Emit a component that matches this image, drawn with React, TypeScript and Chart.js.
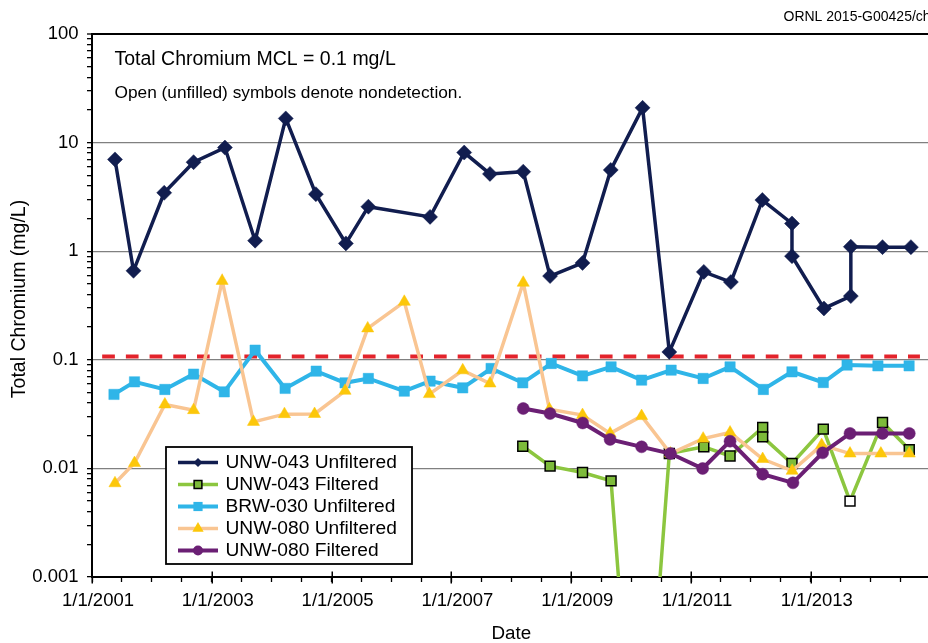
import React, { useEffect, useRef } from 'react';
import { Chart, registerables } from 'chart.js';

Chart.register(...registerables);

const FONT = '"Liberation Sans", Arial, Helvetica, sans-serif';

// ---------------- data ----------------
const X_TICK_YEARS = [2001, 2003, 2005, 2007, 2009, 2011, 2013];
const X_TICK_LABELS = ['1/1/2001', '1/1/2003', '1/1/2005', '1/1/2007', '1/1/2009', '1/1/2011', '1/1/2013'];
const Y_TICK_VALUES = [0.001, 0.01, 0.1, 1, 10, 100];
const Y_TICK_LABELS = ['0.001', '0.01', '0.1', '1', '10', '100'];

const UNW043U_DATES = [
  '2001-05-21', '2001-09-11', '2002-03-17', '2002-09-12', '2003-03-22', '2003-09-22', '2004-03-27',
  '2004-09-27', '2005-03-29', '2005-08-13', '2006-08-24', '2007-03-20', '2007-08-24', '2008-03-14',
  '2008-08-25', '2009-03-11', '2009-08-30', '2010-03-12', '2010-08-22', '2011-03-20', '2011-09-01',
  '2012-03-11', '2012-09-08', '2012-09-08', '2013-03-22', '2013-09-02', '2013-09-02', '2014-03-14',
  '2014-09-03',
];
const UNW043U_VALUES = [
  7.0, 0.66, 3.45, 6.6, 9.0, 1.25, 16.7, 3.35, 1.18, 2.57, 2.07, 8.1, 5.15, 5.4, 0.59, 0.78, 5.6, 20.9,
  0.118, 0.645, 0.52, 2.96, 1.8, 0.9, 0.297, 0.386, 1.1, 1.09, 1.09,
];

const UNW043F_DATES = [
  '2008-03-11', '2008-08-25', '2009-03-11', '2009-09-01', '2010-02-21', '2010-08-22', '2011-03-20',
  '2011-08-27', '2012-03-13', '2012-03-13', '2012-09-08', '2013-03-18', '2013-08-28', '2014-03-14',
  '2014-08-24',
];
const UNW043F_VALUES = [
  0.016, 0.0105, 0.00917, 0.00767, 0.000003, 0.0137, 0.0158, 0.013, 0.0238, 0.0195, 0.0111, 0.023,
  0.005, 0.0265, 0.0149,
];
const UNW043F_NONDETECT = [
  false, false, false, false, false, false, false, false, false, false, false, false, true, false, false,
];

const BRW030U_DATES = [
  '2001-05-15', '2001-09-17', '2002-03-21', '2002-09-12', '2003-03-18', '2003-09-22', '2004-03-23',
  '2004-09-29', '2005-03-24', '2005-08-13', '2006-03-20', '2006-08-24', '2007-03-11', '2007-08-31',
  '2008-03-11', '2008-09-01', '2009-03-11', '2009-09-01', '2010-03-06', '2010-09-02', '2011-03-16',
  '2011-08-27', '2012-03-17', '2012-09-08', '2013-03-18', '2013-08-10', '2014-02-14', '2014-08-23',
];
const BRW030U_VALUES = [
  0.048, 0.0627, 0.0533, 0.0738, 0.0507, 0.1227, 0.0545, 0.0786, 0.0614, 0.0673, 0.0514, 0.0636,
  0.0552, 0.0832, 0.0614, 0.0925, 0.0711, 0.0861, 0.065, 0.0803, 0.0673, 0.0861, 0.0533, 0.0775,
  0.0618, 0.0894, 0.088, 0.088,
];

const UNW080U_DATES = [
  '2001-05-21', '2001-09-17', '2002-03-21', '2002-09-12', '2003-03-05', '2003-09-12', '2004-03-19',
  '2004-09-19', '2005-03-24', '2005-08-09', '2006-03-20', '2006-08-20', '2007-03-11', '2007-08-24',
  '2008-03-14', '2008-08-21', '2009-03-11', '2009-08-26', '2010-03-06', '2010-08-29', '2011-03-16',
  '2011-08-27', '2012-03-13', '2012-09-09', '2013-03-08', '2013-08-28', '2014-03-04', '2014-08-24',
];
const UNW080U_VALUES = [
  0.0073, 0.0112, 0.0388, 0.0344, 0.533, 0.0268, 0.0316, 0.0317, 0.0518, 0.1945, 0.342, 0.0483, 0.08,
  0.0605, 0.512, 0.035, 0.031, 0.021, 0.0303, 0.0137, 0.0188, 0.0214, 0.0122, 0.0095, 0.0164, 0.0137,
  0.0137, 0.0137,
];

const UNW080F_DATES = [
  '2008-03-14', '2008-08-25', '2009-03-12', '2009-08-26', '2010-03-06', '2010-08-29', '2011-03-13',
  '2011-08-27', '2012-03-13', '2012-09-14', '2013-03-14', '2013-08-28', '2014-03-14', '2014-08-24',
];
const UNW080F_VALUES = [
  0.0356, 0.032, 0.0262, 0.0185, 0.0158, 0.0137, 0.00998, 0.0178, 0.00885, 0.00736, 0.0139, 0.021,
  0.021, 0.021,
];

const MCL_VALUE = 0.107;
const MCL_DATES = ['2001-03-04', '2014-10-28'];

const TITLE_TEXT = 'Total Chromium MCL = 0.1 mg/L';
const NOTE_TEXT = 'Open (unfilled) symbols denote nondetection.';
const CREDIT_TEXT = 'ORNL 2015-G00425/chj';
const Y_TITLE = 'Total Chromium (mg/L)';
const X_TITLE = 'Date';

// ---------------- styles ----------------
const NAVY = '#111d4f';
const GREEN = '#8cc63f';
const GREEN_FILL = '#7dbb3a';
const BLUE = '#2fb5e8';
const PEACH = '#f9c592';
const GOLD = '#fcc70a';
const PURPLE = '#6b1f74';
const RED = '#e3232b';

const toYear = (iso: string) => {
  const [y, m, d] = iso.split('-').map(Number);
  const start = Date.UTC(y, 0, 1);
  const end = Date.UTC(y + 1, 0, 1);
  return y + (Date.UTC(y, m - 1, d) - start) / (end - start);
};
const pts = (dates: string[], vals: number[]) => dates.map((d, i) => ({ x: toYear(d), y: vals[i] }));

const LEGEND_ITEMS = [
  { label: 'UNW-043 Unfiltered', line: NAVY, lw: 3.5, style: 'diamond', r: 4.5, fill: NAVY, stroke: NAVY, sw: 0 },
  { label: 'UNW-043 Filtered', line: GREEN, lw: 3.5, style: 'square', r: 5.5, fill: GREEN_FILL, stroke: '#000', sw: 1.5 },
  { label: 'BRW-030 Unfiltered', line: BLUE, lw: 4, style: 'square', r: 6.5, fill: BLUE, stroke: BLUE, sw: 0 },
  { label: 'UNW-080 Unfiltered', line: PEACH, lw: 3.5, style: 'triangle', r: 6.5, fill: GOLD, stroke: GOLD, sw: 0 },
  { label: 'UNW-080 Filtered', line: PURPLE, lw: 4, style: 'circle', r: 5, fill: PURPLE, stroke: PURPLE, sw: 0 },
];

function drawMarker(ctx: CanvasRenderingContext2D, style: string, x: number, y: number, r: number, fill: string, stroke: string, sw: number) {
  ctx.beginPath();
  if (style === 'diamond') {
    ctx.moveTo(x, y - r); ctx.lineTo(x + r, y); ctx.lineTo(x, y + r); ctx.lineTo(x - r, y); ctx.closePath();
  } else if (style === 'square') {
    const h = r / Math.SQRT2;
    ctx.rect(x - h, y - h, 2 * h, 2 * h);
  } else if (style === 'triangle') {
    ctx.moveTo(x, y - r);
    ctx.lineTo(x + r * Math.sin(Math.PI * 2 / 3), y - r * Math.cos(Math.PI * 2 / 3));
    ctx.lineTo(x + r * Math.sin(Math.PI * 4 / 3), y - r * Math.cos(Math.PI * 4 / 3));
    ctx.closePath();
  } else {
    ctx.arc(x, y, r, 0, Math.PI * 2);
  }
  ctx.fillStyle = fill;
  ctx.fill();
  if (sw > 0) {
    ctx.lineWidth = sw;
    ctx.strokeStyle = stroke;
    ctx.stroke();
  }
}

const annotate = {
  id: 'annotate',
  afterDraw(chart: any) {
    const ctx: CanvasRenderingContext2D = chart.ctx;
    const xs = chart.scales.x;
    const area = chart.chartArea;
    ctx.save();
    // major tick marks crossing the x axis
    ctx.strokeStyle = '#000';
    ctx.lineWidth = 1.5;
    [...X_TICK_YEARS, 2015].forEach((yr) => {
      const px = Math.round(xs.getPixelForValue(yr)) + 0.25;
      ctx.beginPath();
      ctx.moveTo(px, area.bottom - 5.5);
      ctx.lineTo(px, area.bottom + 6.5);
      ctx.stroke();
    });
    // y axis title
    ctx.fillStyle = '#000';
    ctx.save();
    ctx.translate(19.5, 299);
    ctx.rotate(-Math.PI / 2);
    ctx.textAlign = 'center';
    ctx.textBaseline = 'middle';
    ctx.font = `19.5px ${FONT}`;
    ctx.fillText(Y_TITLE, 0, 0);
    ctx.restore();
    // annotation texts
    ctx.textAlign = 'left';
    ctx.textBaseline = 'alphabetic';
    ctx.font = `19.5px ${FONT}`;
    ctx.fillText(TITLE_TEXT, area.left + 22.5, 65);
    ctx.font = `17.3px ${FONT}`;
    ctx.fillText(NOTE_TEXT, area.left + 22.5, 97.5);
    ctx.font = `14px ${FONT}`;
    ctx.fillText(CREDIT_TEXT, 783.5, 21);
    // legend
    const bx = 166, by = 447, bw = 246, bh = 117;
    ctx.fillStyle = '#fff';
    ctx.fillRect(bx, by, bw, bh);
    ctx.strokeStyle = '#000';
    ctx.lineWidth = 1.8;
    ctx.strokeRect(bx, by, bw, bh);
    ctx.font = `19.2px ${FONT}`;
    ctx.textBaseline = 'middle';
    LEGEND_ITEMS.forEach((it, i) => {
      const y = 462.5 + i * 22;
      ctx.strokeStyle = it.line;
      ctx.lineWidth = it.lw;
      ctx.beginPath();
      ctx.moveTo(178, y);
      ctx.lineTo(218, y);
      ctx.stroke();
      drawMarker(ctx, it.style, 198, y, it.r, it.fill, it.stroke, it.sw);
      ctx.fillStyle = '#000';
      ctx.fillText(it.label, 225.5, y + 0.5);
    });
    ctx.restore();
  },
};

export default function App() {
  const ref = useRef<HTMLCanvasElement>(null);

  useEffect(() => {
    Chart.defaults.font.family = FONT;
    Chart.defaults.color = '#000';

    const xTicks: { value: number }[] = [];
    for (let v = 2001; v <= 2015.0001; v += 0.5) xTicks.push({ value: v });

    const yTicks: { value: number }[] = [];
    for (let e = -3; e <= 2; e++) {
      for (let s = 1; s <= 9; s++) {
        const v = parseFloat((s * Math.pow(10, e)).toPrecision(6));
        yTicks.push({ value: v });
        if (e === 2) break;
      }
    }
    const isDecade = (v: number) => Y_TICK_VALUES.findIndex((t) => Math.abs(v - t) / t < 1e-9);

    const chart = new Chart(ref.current as HTMLCanvasElement, {
      type: 'line',
      data: {
        datasets: [
          {
            label: 'MCL',
            data: pts(MCL_DATES, [MCL_VALUE, MCL_VALUE]),
            borderColor: RED,
            borderWidth: 4,
            borderDash: [12.7, 11],
            pointRadius: 0,
            order: 6,
          },
          {
            label: 'UNW-043 Unfiltered',
            data: pts(UNW043U_DATES, UNW043U_VALUES),
            borderColor: NAVY,
            backgroundColor: NAVY,
            borderWidth: 3.5,
            pointStyle: 'rectRot',
            pointRadius: 7.5,
            pointBackgroundColor: NAVY,
            pointBorderColor: NAVY,
            pointBorderWidth: 0.5,
            order: 5,
          },
          {
            label: 'UNW-043 Filtered',
            data: pts(UNW043F_DATES, UNW043F_VALUES),
            borderColor: GREEN,
            backgroundColor: GREEN_FILL,
            borderWidth: 3.5,
            pointStyle: 'rect',
            pointRadius: 7,
            pointBackgroundColor: UNW043F_NONDETECT.map((n) => (n ? '#fff' : GREEN_FILL)),
            pointBorderColor: '#000',
            pointBorderWidth: 1.5,
            order: 4,
          },
          {
            label: 'BRW-030 Unfiltered',
            data: pts(BRW030U_DATES, BRW030U_VALUES),
            borderColor: BLUE,
            backgroundColor: BLUE,
            borderWidth: 4,
            pointStyle: 'rect',
            pointRadius: 7.3,
            pointBackgroundColor: BLUE,
            pointBorderColor: BLUE,
            pointBorderWidth: 0.5,
            order: 3,
          },
          {
            label: 'UNW-080 Unfiltered',
            data: pts(UNW080U_DATES, UNW080U_VALUES),
            borderColor: PEACH,
            backgroundColor: GOLD,
            borderWidth: 3.5,
            pointStyle: 'triangle',
            pointRadius: 7,
            pointBackgroundColor: GOLD,
            pointBorderColor: GOLD,
            pointBorderWidth: 0.5,
            order: 2,
          },
          {
            label: 'UNW-080 Filtered',
            data: pts(UNW080F_DATES, UNW080F_VALUES),
            borderColor: PURPLE,
            backgroundColor: PURPLE,
            borderWidth: 4,
            pointStyle: 'circle',
            pointRadius: 6,
            pointBackgroundColor: PURPLE,
            pointBorderColor: PURPLE,
            pointBorderWidth: 0.5,
            order: 1,
          },
        ],
      },
      options: {
        responsive: false,
        maintainAspectRatio: false,
        animation: false,
        events: [],
        layout: { padding: { top: 34, right: 9.4, left: 0, bottom: 0 } },
        elements: { line: { tension: 0 } },
        plugins: { legend: { display: false }, tooltip: { enabled: false }, title: { display: false } },
        scales: {
          x: {
            type: 'linear',
            min: 2001,
            max: 2015,
            afterBuildTicks: (s: any) => {
              s.ticks = xTicks.map((t) => ({ ...t }));
            },
            afterFit: (s: any) => {
              s.height = 66;
            },
            ticks: {
              autoSkip: false,
              maxRotation: 0,
              minRotation: 0,
              padding: 7.5,
              labelOffset: 6,
              color: '#000',
              font: { size: 18.5, family: FONT },
              callback: (v: any) => {
                const i = X_TICK_YEARS.indexOf(Number(v));
                return i >= 0 ? X_TICK_LABELS[i] : '';
              },
            },
            grid: { drawOnChartArea: false, color: '#000', tickColor: '#000', tickLength: 5, tickWidth: 1.3 },
            border: { color: '#000', width: 2 },
            title: {
              display: true,
              text: X_TITLE,
              color: '#000',
              font: { size: 18.8, family: FONT, lineHeight: 1 },
              padding: { top: 0, bottom: 0 },
            },
          },
          y: {
            type: 'logarithmic',
            min: 0.001,
            max: 100,
            afterBuildTicks: (s: any) => {
              s.ticks = yTicks.map((t) => ({ ...t }));
            },
            afterFit: (s: any) => {
              s.width = 92;
            },
            ticks: {
              autoSkip: false,
              padding: 8.5,
              color: '#000',
              font: { size: 18.5, family: FONT },
              callback: (v: any) => {
                const i = isDecade(Number(v));
                return i >= 0 ? Y_TICK_LABELS[i] : '';
              },
            },
            grid: {
              color: (c: any) => {
                const v = c.tick ? c.tick.value : 0;
                const i = isDecade(v);
                if (i < 0) return 'rgba(0,0,0,0)';
                return i === Y_TICK_VALUES.length - 1 ? '#000' : '#808080';
              },
              lineWidth: (c: any) => {
                const v = c.tick ? c.tick.value : 0;
                return isDecade(v) === Y_TICK_VALUES.length - 1 ? 2 : 1.3;
              },
              tickColor: '#000',
              tickLength: 5,
              tickWidth: 1.3,
            },
            border: { color: '#000', width: 2 },
            title: { display: false },
          },
        },
      },
      plugins: [annotate],
    } as any);

    return () => chart.destroy();
  }, []);

  return (
    <div style={{ position: 'fixed', left: 0, top: 0, width: 928, height: 643, overflow: 'hidden', background: '#fff' }}>
      <canvas ref={ref} width={940} height={643} style={{ display: 'block', width: 940, height: 643 }} />
    </div>
  );
}
